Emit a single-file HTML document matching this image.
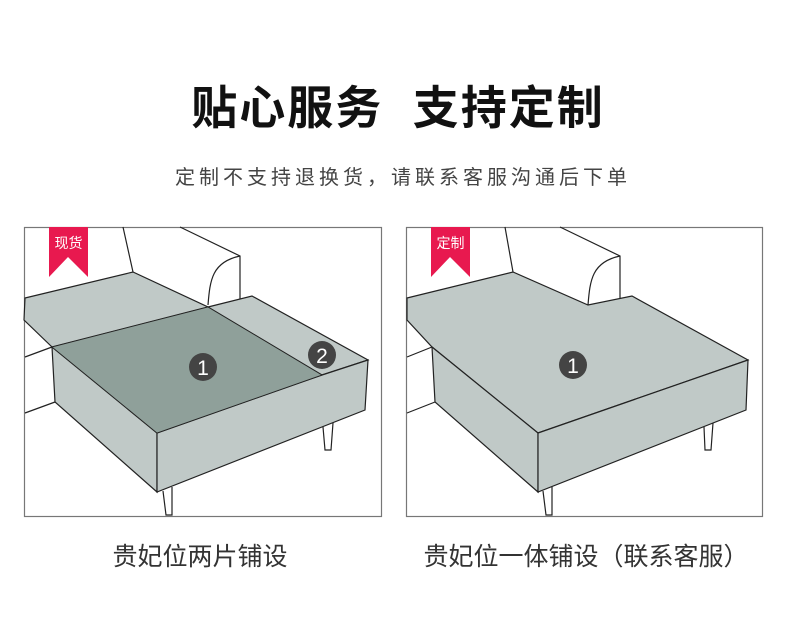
<!DOCTYPE html>
<html><head><meta charset="utf-8"><style>
body{margin:0;background:#fff;width:790px;height:623px;overflow:hidden;font-family:"Liberation Sans","Noto Sans CJK SC",sans-serif;}
.t{position:absolute;left:0;width:790px;text-align:center;color:#111;}
</style></head><body>
<div class="t" style="top:72px;left:3px;font-size:46px;font-weight:bold;letter-spacing:2px;">贴心服务&nbsp;&nbsp;支持定制</div>
<div class="t" style="top:161px;left:8px;font-size:20px;color:#444;letter-spacing:4px;">定制不支持退换货，请联系客服沟通后下单</div>
<svg width="790" height="623" style="position:absolute;left:0;top:0" font-family="Liberation Sans,Noto Sans CJK SC,sans-serif">
<g stroke="#222" stroke-width="1.2" fill="none">
<!-- LEFT -->
<rect x="24.5" y="227.5" width="357" height="289" stroke="#777"/>
<path d="M123 227 L133 272 M180 227 L240 256 L240 299 M208 305 C210 280 212 262 240 256"/>
<path d="M25 357 L52 347 M25 413 L55 402"/>
<polygon points="25,298 133,272 208,307 52,347 24,320" fill="#c0c9c7"/>
<polygon points="208,307 252,296 368,360 322,375" fill="#c0c9c7"/>
<polygon points="52,347 157,433 157,492 55,402" fill="#c0c9c7"/>
<polygon points="157,433 322,375 368,360 365,410 157,492" fill="#c0c9c7"/>
<polygon points="52,347 208,307 322,375 157,433" fill="#8fa09a" stroke-width="0.8"/>
<path d="M163 491 L166 515 L172 515 L172 487 M323 427 L325 450 L331 450 L333 423"/>
<!-- RIGHT -->
<rect x="406.5" y="227.5" width="356" height="289" stroke="#777"/>
<path d="M505 227 L513 272 M560 227 L620 256 L620 299 M588 305 C590 280 592 262 620 256"/>
<path d="M407 357 L432 347 M407 413 L435 402"/>
<polygon points="407,298 513,272 588,305 632,296 748,360 538,433 432,347 407,320" fill="#c0c9c7"/>
<polygon points="432,347 538,433 538,492 435,402" fill="#c0c9c7"/>
<polygon points="538,433 748,360 746,410 538,492" fill="#c0c9c7"/>
<path d="M543 491 L546 515 L552 515 L552 487 M704 427 L705 450 L711 450 L713 423"/>
</g>
<polygon points="49,227 88,227 88,277 68,257 49,277" fill="#e8194f"/>
<text x="68.5" y="248" font-size="14" fill="#fff" text-anchor="middle">现货</text>
<polygon points="431,227 470,227 470,277 450,257 431,277" fill="#e8194f"/>
<text x="450.5" y="248" font-size="14" fill="#fff" text-anchor="middle">定制</text>
<circle cx="203" cy="367" r="14" fill="#444"/><text x="203" y="375" font-size="21" fill="#fff" text-anchor="middle">1</text>
<circle cx="322" cy="355" r="14" fill="#444"/><text x="322" y="363" font-size="21" fill="#fff" text-anchor="middle">2</text>
<circle cx="573" cy="365" r="14" fill="#444"/><text x="573" y="373" font-size="21" fill="#fff" text-anchor="middle">1</text>
<text x="200" y="565" font-size="25" fill="#333" text-anchor="middle">贵妃位两片铺设</text>
<text x="586" y="565" font-size="25" fill="#333" text-anchor="middle">贵妃位一体铺设（联系客服）</text>
</svg>
</body></html>
